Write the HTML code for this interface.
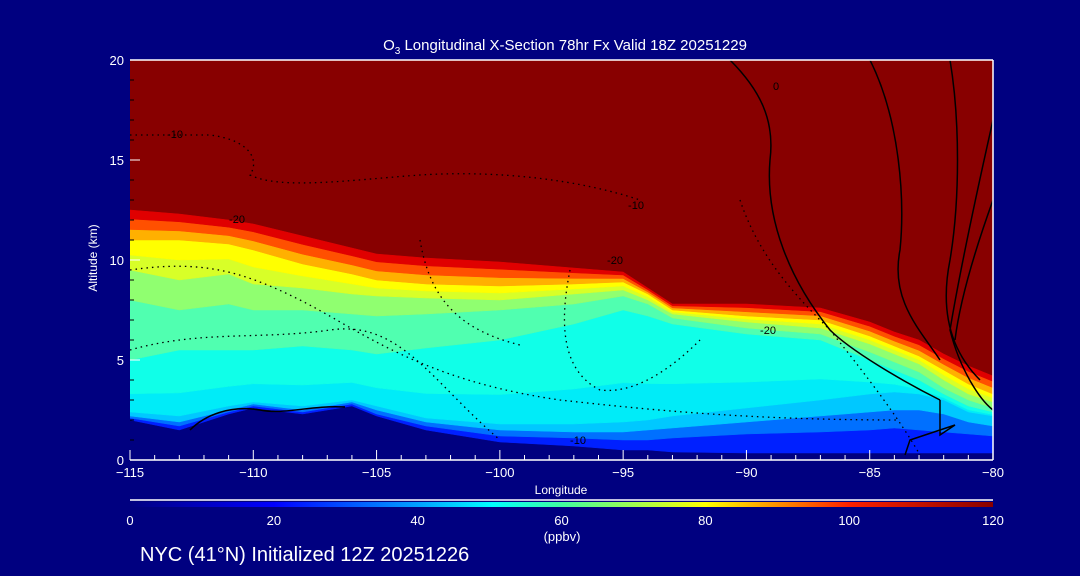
<!DOCTYPE html>
<html><head><meta charset="utf-8"><style>
html,body{margin:0;padding:0;background:#000080;}
svg{display:block;font-family:"Liberation Sans",sans-serif;}
</style></head><body>
<svg id="c" width="1080" height="576" viewBox="0 0 1080 576">
<rect width="1080" height="576" fill="#000080"/>
<defs>
<linearGradient id="cb" x1="0" x2="1" y1="0" y2="0">
<stop offset="0" stop-color="#000080"/><stop offset="0.167" stop-color="#0000ff"/>
<stop offset="0.333" stop-color="#00a0ff"/><stop offset="0.42" stop-color="#00ffff"/>
<stop offset="0.5" stop-color="#40ffa0"/><stop offset="0.667" stop-color="#ffff00"/>
<stop offset="0.833" stop-color="#ff2000"/><stop offset="1" stop-color="#880000"/>
</linearGradient>
<clipPath id="pc"><rect x="130" y="60" width="863" height="400"/></clipPath>
</defs>
<g id="plot" clip-path="url(#pc)"></g>
<g id="axes"></g>
<text x="565" y="50" fill="#fff" font-size="15" text-anchor="middle">O<tspan font-size="10" dy="4">3</tspan><tspan dy="-4"> Longitudinal X-Section 78hr  Fx Valid 18Z 20251229</tspan></text>
<text transform="translate(97,258) rotate(-90)" fill="#fff" font-size="12" text-anchor="middle">Altitude (km)</text>
<text x="561" y="494" fill="#fff" font-size="12" text-anchor="middle">Longitude</text>
<line x1="130" y1="500" x2="993" y2="500" stroke="#fff" stroke-width="1.5"/>
<rect x="130" y="502" width="863" height="5" fill="url(#cb)"/>
<g id="cbt" fill="#fff" font-size="13" text-anchor="middle"></g>
<text x="562" y="541" fill="#fff" font-size="13" text-anchor="middle">(ppbv)</text>
<text x="140" y="561" fill="#fff" font-size="20">NYC (41°N) Initialized 12Z 20251226</text>
</svg>
<script>
const lons=[-115,-113,-111,-110,-108,-106,-105,-103,-100,-97,-95,-94,-93,-90,-87,-85,-84,-83,-82,-81,-80];
const terrain=[2.0,1.5,2.3,2.6,2.3,2.7,2.2,1.5,0.9,0.7,0.5,0.5,0.4,0.35,0.35,0.35,0.35,0.35,0.35,0.35,0.35];
const deepBlueTop=[2.1,1.7,2.4,2.7,2.4,2.8,2.3,1.7,1.2,1.1,1.0,1.0,1.1,1.3,1.4,1.5,1.6,1.5,1.4,1.3,1.2];
const blueTop=[2.2,1.9,2.5,2.8,2.5,2.9,2.5,1.9,1.5,1.4,1.4,1.5,1.6,1.9,2.2,2.4,2.5,2.5,2.3,1.9,1.7];
const lightCyanTop=[2.4,2.2,2.7,2.9,2.7,3.0,2.7,2.1,1.8,1.8,1.9,2.0,2.2,2.6,3.0,3.3,3.4,3.3,3.0,2.4,2.2];
const cyanTop=[5.0,5.5,5.5,5.5,5.7,5.5,5.3,5.6,6.0,6.8,7.5,7.2,6.8,6.3,6.0,5.0,4.5,4.0,3.3,2.7,2.4];
const aquaTop=[8.0,7.5,7.8,7.5,7.5,7.3,7.2,7.3,7.5,7.8,8.2,7.8,7.1,6.6,6.3,5.4,4.9,4.4,3.6,3.0,2.6];
const greenTop=[9.5,9.0,9.3,8.8,8.6,8.3,8.2,8.1,8.0,8.3,8.5,8.0,7.3,6.9,6.6,5.8,5.3,4.8,4.0,3.3,2.9];
const yellowTop=[11.0,11.0,10.8,10.5,9.8,9.3,9.0,8.8,8.7,8.8,8.9,8.3,7.5,7.2,7.0,6.2,5.7,5.2,4.5,3.8,3.3];
const tropo=[12.5,12.3,12.0,11.8,11.2,10.6,10.3,10.1,9.9,9.6,9.4,8.6,7.8,7.8,7.6,6.9,6.4,6.0,5.3,4.7,4.2];
const xTicks=[-115,-110,-105,-100,-95,-90,-85,-80];
const yTicks=[0,5,10,15,20];
const cbTicks=[0,20,40,60,80,100,120];
const NS='http://www.w3.org/2000/svg';
const X=v=>130+(v+115)/35*863, Y=v=>460-v*20, CB=v=>130+v/120*863;
const plot=document.getElementById('plot'), axes=document.getElementById('axes');
function mk(t,a,p){const e=document.createElementNS(NS,t);for(const k in a)e.setAttribute(k,a[k]);p.appendChild(e);return e;}
function band(lo,hi,col,name){
  let pts=lons.map((l,i)=>X(l)+','+Y(hi[i]));
  for(let i=lons.length-1;i>=0;i--)pts.push(X(lons[i])+','+Y(lo[i]));
  const p=mk('polygon',{points:pts.join(' '),fill:col,stroke:col,'stroke-width':0.5},plot);
  
  
}
const zeroLine=lons.map(()=>0);
const mix=(a,b,f)=>a.map((v,i)=>v+(b[i]-v)*f);
const bg=mk('rect',{x:130,y:60,width:863,height:400,fill:'#880000'},plot);


band(zeroLine,terrain,'#000080','terrain');
band(terrain,deepBlueTop,'#0020ff','band-deep-blue');
band(deepBlueTop,blueTop,'#0070ff','band-blue');
band(blueTop,lightCyanTop,'#00c8ff','band-light-blue');
band(lightCyanTop,mix(lightCyanTop,cyanTop,0.35),'#00ecf8','band-light-cyan');
band(mix(lightCyanTop,cyanTop,0.35),cyanTop,'#10ffe8','band-cyan');
band(cyanTop,aquaTop,'#50ffb0','band-aqua-green');
band(aquaTop,greenTop,'#90ff70','band-green');
band(greenTop,mix(greenTop,yellowTop,0.5),'#d8ff28','band-yellow-green');
band(mix(greenTop,yellowTop,0.5),yellowTop,'#ffff00','band-yellow');
band(yellowTop,mix(yellowTop,tropo,0.35),'#ffb000','band-orange');
band(mix(yellowTop,tropo,0.35),mix(yellowTop,tropo,0.7),'#ff5000','band-red-orange');
band(mix(yellowTop,tropo,0.7),tropo,'#e00000','band-red');
const cont=[
 ['M730,60 C760,90 775,120 770,160 C765,220 790,280 830,330 C850,350 900,380 940,400','solid'],
 ['M870,60 C900,120 905,200 900,250 C890,300 920,330 940,360','solid'],
 ['M950,60 C960,120 960,200 950,260 C940,310 950,350 980,380','solid'],
 ['M993,120 C975,200 960,270 950,330 C960,370 980,400 993,410','solid'],
 ['M993,200 C975,250 960,300 955,340','solid'],
 ['M940,400 L940,435 L955,425 L910,440 L905,455','solid'],
 ['M190,430 C205,415 230,405 260,410 C285,415 310,405 345,407','solid'],
 ['M130,135 L210,135 C250,140 260,160 250,175 C280,190 350,180 420,175 C500,170 580,180 640,200','dot'],
 ['M130,270 C200,260 240,270 300,300 C360,330 420,380 560,400 C650,410 750,420 900,420','dot'],
 ['M570,270 C560,320 560,370 600,390 C640,395 680,360 700,340','dot'],
 ['M130,350 C200,330 260,340 330,330 C400,320 430,380 500,440','dot'],
 ['M420,240 C430,300 460,330 520,345','dot'],
 ['M740,200 C760,260 800,300 830,330 C870,380 900,420 920,455','dot']
];
cont.forEach(c=>{
 const a={d:c[0],fill:'none',stroke:'#000','stroke-width':c[1]=='solid'?1.5:1.3};
 if(c[1]!='solid')a['stroke-dasharray']='1.5,4';
 const p=mk('path',a,plot);
 
 
});
[['-10',175,138],['-20',237,223],['-10',636,209],['-20',615,264],['-20',768,334],['0',776,90],['-10',578,444]].forEach(t=>{
 const e=mk('text',{x:t[1],y:t[2],fill:'#000','font-size':11,'text-anchor':'middle'},plot);e.textContent=t[0];
 
 
});
const fr=mk('path',{d:'M130,460 L993,460 M130,60 L993,60 M993,60 L993,460',stroke:'#fff',fill:'none','stroke-width':1.5},axes);


for(let v=-115;v<=-80;v++){
 const l=mk('line',{x1:X(v),x2:X(v),y1:460,y2:v%5==0?450:455,stroke:'#fff'},axes);
 
 
}
xTicks.forEach(v=>{
 const t=mk('text',{x:X(v),y:477,fill:'#fff','font-size':13,'text-anchor':'middle'},axes);t.textContent=(v<0?'\u2212':'')+Math.abs(v);
 
 
});
for(let v=0;v<=20;v++){
 const l=mk('line',{x1:130,x2:v%5==0?140:134,y1:Y(v),y2:Y(v),stroke:v%5==0?'#fff':'#000'},axes);
 
 
}
yTicks.forEach(v=>{
 const t=mk('text',{x:124,y:Y(v)+5,fill:'#fff','font-size':13,'text-anchor':'end'},axes);t.textContent=v;
 
 
});
const cbt=document.getElementById('cbt');
cbTicks.forEach(v=>{
 const t=mk('text',{x:CB(v),y:525},cbt);t.textContent=v;
 
 
});
</script>
</body></html>
